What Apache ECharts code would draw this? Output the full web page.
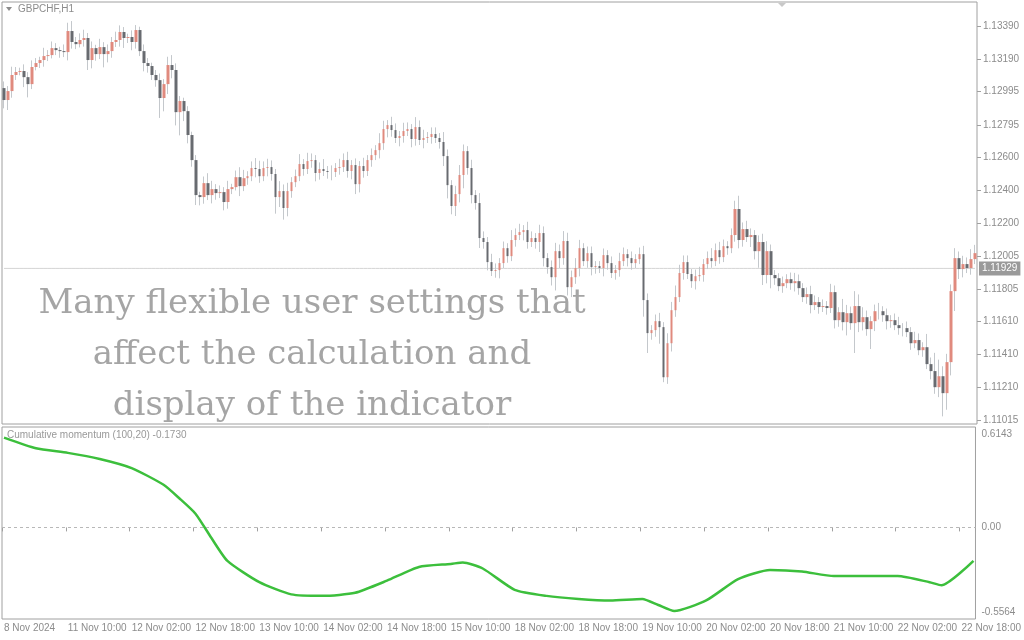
<!DOCTYPE html>
<html>
<head>
<meta charset="utf-8">
<script src="https://cdn.jsdelivr.net/npm/echarts@6/dist/echarts.min.js"></script>
<style>
html,body{margin:0;padding:0;background:#fff;}
#main{width:1024px;height:640px;}
</style>
</head>
<body>
<div id="main"></div>
<script>
// GBPCHF H1 candles, open of first bar, then closes (each bar opens at previous close)
var firstOpen = 1.13016;
var closes = [
1.12944,1.12998,1.13095,1.13113,1.13119,1.13082,1.13040,1.13143,1.13167,1.13185,
1.13209,1.13215,1.13257,1.13245,1.13239,1.13233,1.13360,1.13294,1.13281,1.13306,
1.13318,1.13185,1.13257,1.13221,1.13263,1.13221,1.13239,1.13294,1.13306,1.13354,
1.13318,1.13324,1.13294,1.13366,1.13239,1.13167,1.13149,1.13095,1.13064,1.12956,
1.13040,1.13155,1.13125,1.12871,1.12938,1.12877,1.12733,1.12582,1.12371,1.12359,
1.12443,1.12371,1.12407,1.12383,1.12389,1.12329,1.12407,1.12419,1.12479,1.12425,
1.12473,1.12485,1.12534,1.12528,1.12485,1.12534,1.12540,1.12498,1.12359,1.12395,
1.12293,1.12395,1.12449,1.12485,1.12558,1.12528,1.12576,1.12582,1.12504,1.12528,
1.12516,1.12510,1.12510,1.12534,1.12540,1.12582,1.12516,1.12552,1.12437,1.12546,
1.12516,1.12582,1.12612,1.12642,1.12684,1.12769,1.12793,1.12763,1.12715,1.12727,
1.12757,1.12769,1.12709,1.12781,1.12703,1.12715,1.12721,1.12739,1.12715,1.12691,
1.12606,1.12431,1.12305,1.12377,1.12492,1.12636,1.12534,1.12371,1.12323,1.12112,
1.12088,1.11967,1.11913,1.11919,1.11961,1.12051,1.12003,1.12100,1.12130,1.12148,
1.12160,1.12088,1.12112,1.12088,1.12142,1.11991,1.11937,1.11876,1.12033,1.11991,
1.12094,1.11816,1.11876,1.11931,1.12051,1.11973,1.12021,1.11937,1.11943,1.11931,
1.12009,1.11961,1.11901,1.11919,1.11973,1.12015,1.11991,1.11961,1.11985,1.12015,
1.11738,1.11539,1.11557,1.11611,1.11575,1.11273,1.11478,1.11677,1.11756,1.11901,
1.11967,1.11895,1.11852,1.11882,1.11889,1.11955,1.11991,1.11973,1.12039,1.11997,
1.12063,1.12051,1.12130,1.12287,1.12100,1.12166,1.12118,1.12130,1.12033,1.12088,
1.11889,1.12033,1.11889,1.11870,1.11822,1.11840,1.11864,1.11840,1.11852,1.11810,
1.11756,1.11774,1.11708,1.11726,1.11696,1.11702,1.11690,1.11786,1.11617,1.11665,
1.11605,1.11659,1.11599,1.11702,1.11605,1.11635,1.11563,1.11611,1.11671,1.11671,
1.11647,1.11611,1.11617,1.11587,1.11569,1.11569,1.11545,1.11478,1.11497,1.11436,
1.11454,1.11352,1.11310,1.11213,1.11279,1.11177,1.11364,1.11792,1.11991,1.11925,
1.11955,1.11931,1.11985,1.12021
];
// wick lengths in pips above body top / below body bottom
var wickUp = [
4,3,5,3,2,4,3,4,3,2, 5,3,4,3,2,4,5,6,3,4, 5,3,4,2,5,3,4,3,5,4,
3,2,4,3,2,4,3,2,3,4, 3,5,6,4,3,2,3,2,3,2, 4,6,5,3,4,3,5,2,4,6,
5,3,4,6,5,4,5,4,3,6, 4,5,3,4,6,3,5,4,3,4, 6,3,4,3,5,4,5,3,4,3,
5,3,4,3,6,5,3,5,4,3, 5,4,3,6,4,5,3,4,4,3, 6,4,3,5,6,4,3,5,3,6,
4,3,5,4,3,4,3,6,4,5, 3,5,4,3,5,4,3,4,5,4, 6,5,4,6,5,3,4,4,3,3,
4,3,4,3,5,4,3,4,3,4, 5,4,3,4,5,3,6,5,7,5, 4,4,3,4,5,3,4,6,4,5,
4,3,4,5,8,4,5,4,3,4, 5,6,4,3,3,4,3,4,5,4, 3,4,5,4,3,4,3,5,4,3,
8,5,4,9,7,6,4,3,4,5, 3,4,3,4,5,3,4,3,5,4, 3,8,4,11,10,6,5,4,6,4,
5,4,6,5
];
var wickDn = [
5,6,4,3,2,6,8,3,2,3, 4,3,2,3,4,3,5,4,3,2, 4,6,5,4,3,8,5,4,3,4,
6,3,5,4,3,5,4,3,4,12, 8,6,5,8,14,6,5,4,6,5, 4,3,5,4,3,5,4,3,2,6,
3,4,3,5,4,3,5,4,10,6, 7,5,4,3,3,4,3,4,5,4, 3,4,5,3,4,3,4,5,6,5,
4,3,4,3,5,4,5,4,3,5, 4,3,5,4,3,5,3,4,3,4, 6,8,5,6,5,8,4,5,4,6,
4,5,3,4,5,3,4,3,4,3, 5,4,3,4,6,5,4,5,8,6, 4,5,6,4,5,3,4,5,4,3,
5,4,3,4,4,3,5,4,3,3, 10,12,4,4,10,3,4,5,4,3, 4,3,4,5,3,4,3,4,3,4,
3,4,3,4,5,4,3,6,5,10, 6,5,8,4,3,4,3,4,5,4, 3,4,5,3,4,3,4,3,5,4,
5,8,4,18,6,5,4,12,6,5, 4,5,4,3,4,5,3,4,3,3, 4,3,5,4,6,14,10,8,12,6,
5,3,4,3
];
// cumulative momentum (100,20): [bar index, value]
var momentum = [
[0,0.59],[8,0.52],[16,0.49],[24,0.45],[32,0.39],[40,0.28],[44,0.19],[48,0.09],
[52,-0.07],[56,-0.22],[64,-0.36],[72,-0.44],[80,-0.45],[88,-0.43],[96,-0.35],
[104,-0.26],[112,-0.24],[115,-0.23],[120,-0.27],[128,-0.41],[136,-0.45],[144,-0.47],
[152,-0.48],[160,-0.47],[164,-0.51],[168,-0.55],[176,-0.48],[184,-0.34],[192,-0.28],
[200,-0.29],[208,-0.32],[216,-0.32],[224,-0.32],[232,-0.36],[235,-0.38],[243,-0.22]
];
var tickLabels = ['8 Nov 2024','11 Nov 10:00','12 Nov 02:00','12 Nov 18:00','13 Nov 10:00',
'14 Nov 02:00','14 Nov 18:00','15 Nov 10:00','18 Nov 02:00','18 Nov 18:00','19 Nov 10:00',
'20 Nov 02:00','20 Nov 18:00','21 Nov 10:00','22 Nov 02:00','22 Nov 18:00'];
var priceTicks = [1.13390,1.13190,1.12995,1.12795,1.12600,1.12400,1.12200,1.12005,
1.11805,1.11610,1.11410,1.11210,1.11015];
var momTicks = [0.6143,0.00,-0.5564];
var momTickText = ['0.6143','0.00','-0.5564'];
var lastBid = 1.11929;

var cats = [], bodies = [], wicks = [], bidLine = [];
for (var i = 0; i < closes.length; i++) {
  cats.push(String(i));
  var o = i === 0 ? firstOpen : closes[i - 1], c = closes[i];
  var hi = Math.max(o, c) + wickUp[i] / 10000, lo = Math.min(o, c) - wickDn[i] / 10000;
  bodies.push([o, c, Math.min(o, c), Math.max(o, c)]);
  wicks.push([lo, hi, lo, hi]);
  bidLine.push(lastBid);
}

var txt = {color: '#8c8c8c', fontSize: 10, fontFamily: 'Liberation Sans'};
var chart = echarts.init(document.getElementById('main'));
chart.setOption({
  animation: false,
  backgroundColor: '#fff',
  grid: [
    {left: 2, right: 47, top: 2, height: 422, show: true, borderColor: '#a0a0a0', borderWidth: 1},
    {left: 2, right: 47, top: 427, bottom: 21, show: true, borderColor: '#a0a0a0', borderWidth: 1}
  ],
  xAxis: [
    {type: 'category', gridIndex: 0, data: cats, boundaryGap: true, axisLine: {show: false},
     axisTick: {show: false}, axisLabel: {show: false}, splitLine: {show: false}},
    {type: 'category', gridIndex: 1, data: cats, boundaryGap: true,
     axisLine: {show: false},
     axisTick: {show: true, interval: 15, length: 4, lineStyle: {color: '#a0a0a0'}},
     axisLabel: Object.assign({interval: 15, align: 'left', margin: 4,
       formatter: function (v, idx) { return tickLabels[idx / 16] || ''; }}, txt),
     splitLine: {show: false}}
  ],
  yAxis: [
    {type: 'value', gridIndex: 0, position: 'right', min: 1.10991, max: 1.13535,
     axisLine: {show: false}, splitLine: {show: false},
     axisTick: {show: true, length: 4, customValues: priceTicks, lineStyle: {color: '#a0a0a0'}},
     axisLabel: Object.assign({margin: 6, customValues: priceTicks,
       formatter: function (v) { return v.toFixed(5); }}, txt)},
    {type: 'value', gridIndex: 1, position: 'right', min: -0.602, max: 0.66,
     axisLine: {show: false}, splitLine: {show: false},
     axisTick: {show: false},
     axisLabel: Object.assign({margin: 6, customValues: momTicks,
       formatter: function (v) { return momTickText[momTicks.indexOf(Math.round(v * 10000) / 10000)]; }}, txt)}
  ],
  series: [
    {type: 'line', xAxisIndex: 0, yAxisIndex: 0, data: bidLine, symbol: 'none', silent: true, z: 1,
     lineStyle: {color: '#d4d4d4', width: 1},
     endLabel: {show: true, formatter: function () { return lastBid.toFixed(5); }, distance: 4,
       color: '#fff', backgroundColor: '#9a9a9a', fontSize: 10, fontFamily: 'Liberation Sans', padding: [2, 3]}},
    {type: 'candlestick', xAxisIndex: 0, yAxisIndex: 0, data: wicks, barWidth: 1, z: 2,
     itemStyle: {color: '#c4c8cc', color0: '#c4c8cc', borderColor: '#c4c8cc', borderColor0: '#c4c8cc', borderWidth: 1}},
    {type: 'candlestick', xAxisIndex: 0, yAxisIndex: 0, data: bodies, barWidth: 3, z: 3,
     itemStyle: {color: '#e08a7e', color0: '#686b70', borderColor: '#e08a7e', borderColor0: '#686b70', borderWidth: 0}},
    {type: 'line', xAxisIndex: 1, yAxisIndex: 1, data: momentum, smooth: 0.2, symbol: 'none',
     lineStyle: {color: '#3cbf3c', width: 2.5},
     markLine: {silent: true, symbol: 'none', label: {show: false},
       lineStyle: {color: '#b8b8b8', type: [3, 3], width: 1}, data: [{yAxis: 0}]}}
  ],
  graphic: [
    {type: 'polygon', shape: {points: [[6, 7], [12, 7], [9, 11]]}, style: {fill: '#8c8c8c'}},
    {type: 'text', left: 18, top: 4, style: {text: 'GBPCHF,H1', fill: '#8c8c8c', font: '10px "Liberation Sans"'}},
    {type: 'polygon', shape: {points: [[778, 3], [786, 3], [782, 7]]}, style: {fill: '#c8c8c8'}},
    {type: 'text', left: 7, top: 430, style: {text: 'Cumulative momentum (100,20) -0.1730', fill: '#999', font: '10px "Liberation Sans"'}},
    {type: 'text', x: 312, y: 279, z: 100, style: {
      text: 'Many flexible user settings that\naffect the calculation and\ndisplay of the indicator',
      fill: '#a5a5a5', font: '34px "DejaVu Serif"', align: 'center', verticalAlign: 'top', lineHeight: 51}}
  ]
});
</script>
</body>
</html>
